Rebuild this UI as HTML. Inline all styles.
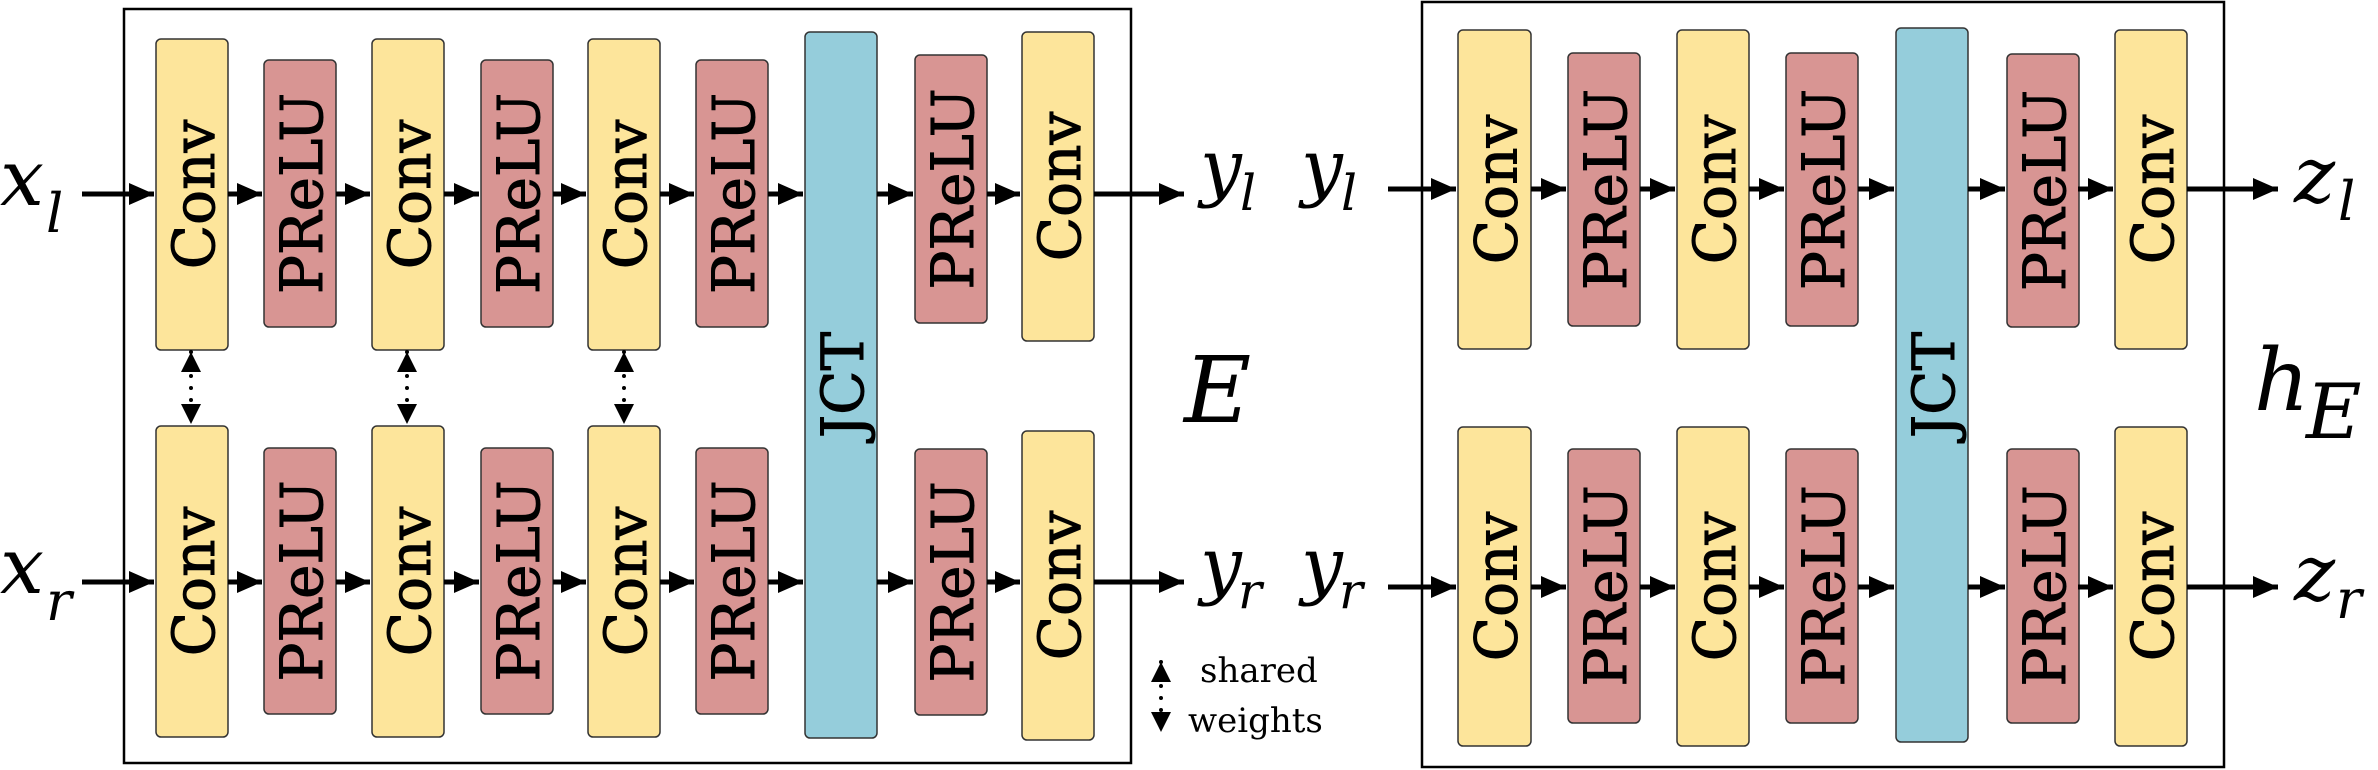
<!DOCTYPE html>
<html><head><meta charset="utf-8"><style>
html,body{margin:0;padding:0;background:#fff;}
svg{display:block;}
</style></head><body>
<svg id="fig" width="2378" height="770" viewBox="0 0 2378 770" xmlns="http://www.w3.org/2000/svg" font-family="'DejaVu Serif', 'Liberation Serif', serif">
<defs>
<marker id="ah" markerWidth="6" markerHeight="6" refX="5" refY="3" orient="auto" markerUnits="strokeWidth"><path d="M0,0.8 L5,3 L0,5.2 z" fill="#000"/></marker>
<marker id="ah2" markerWidth="6" markerHeight="6" refX="5" refY="3" orient="auto-start-reverse" markerUnits="strokeWidth"><path d="M0,0.5 L5,3 L0,5.5 z" fill="#000"/></marker>
</defs>
<rect x="124" y="9" width="1007" height="754" fill="none" stroke="#000" stroke-width="2.5"/>
<rect x="1422" y="2" width="802" height="765" fill="none" stroke="#000" stroke-width="2.5"/>
<g id="blocks"></g>
<g id="arrows"></g>
<g font-style="italic">
<text x="0" y="205" font-size="78">x</text><text x="46" y="232" font-size="54">l</text>
<text x="0" y="593" font-size="78">x</text><text x="46" y="620" font-size="54">r</text>
<text x="1200" y="192" font-size="74">y</text><text x="1240" y="210" font-size="50">l</text>
<text x="1200" y="590" font-size="74">y</text><text x="1238" y="608" font-size="50">r</text>
<text x="1301" y="192" font-size="74">y</text><text x="1341" y="210" font-size="50">l</text>
<text x="1301" y="590" font-size="74">y</text><text x="1339" y="608" font-size="50">r</text>
<text x="2294" y="202" font-size="78">z</text><text x="2338" y="220" font-size="54">l</text>
<text x="2294" y="600" font-size="78">z</text><text x="2336" y="618" font-size="54">r</text>
<text x="1184" y="422" font-size="92">E</text>
<text x="2254" y="410" font-size="86">h</text><text x="2306" y="438" font-size="76">E</text>
</g>
<text x="1200" y="682" font-size="34">shared</text>
<text x="1188" y="732" font-size="34">weights</text>
</svg>
<script>
const NS="http://www.w3.org/2000/svg";
const COL={Conv:"#FDE59B",PReLU:"#D89593",JCT:"#95CDDB"};
const blocks=[
["Conv",156,72,39,350],["PReLU",264,72,60,327],["Conv",372,72,39,350],["PReLU",481,72,60,327],["Conv",588,72,39,350],["PReLU",696,72,60,327],
["JCT",805,72,32,738],["PReLU",915,72,55,323],["Conv",1022,72,32,341],
["Conv",156,72,426,737],["PReLU",264,72,448,714],["Conv",372,72,426,737],["PReLU",481,72,448,714],["Conv",588,72,426,737],["PReLU",696,72,448,714],
["PReLU",915,72,449,715],["Conv",1022,72,431,740],
["Conv",1458,73,30,349],["PReLU",1568,72,53,326],["Conv",1677,72,30,349],["PReLU",1786,72,53,326],["JCT",1896,72,28,742],["PReLU",2007,72,54,327],["Conv",2115,72,30,349],
["Conv",1458,73,427,746],["PReLU",1568,72,449,723],["Conv",1677,72,427,746],["PReLU",1786,72,449,723],["PReLU",2007,72,449,723],["Conv",2115,72,427,746]
];
const bg=document.getElementById('blocks');
blocks.forEach((b,i)=>{
 const g=document.createElementNS(NS,'g');
 
 
 const r=document.createElementNS(NS,'rect');
 r.setAttribute('x',b[1]);r.setAttribute('y',b[3]);r.setAttribute('width',b[2]);r.setAttribute('height',b[4]-b[3]);
 r.setAttribute('rx',5);r.setAttribute('fill',COL[b[0]]);r.setAttribute('stroke','#333');r.setAttribute('stroke-width',1.5);
 g.appendChild(r);
 const t=document.createElementNS(NS,'text');
 const cx=b[1]+b[2]/2+2, cy=(b[3]+b[4])/2;
 t.setAttribute('font-size','58');t.setAttribute('text-anchor','middle');t.setAttribute('dominant-baseline','central');
 t.setAttribute('stroke','#000');t.setAttribute('stroke-width','1');
 t.setAttribute('transform','translate('+cx+','+cy+') rotate(-90)');
 t.textContent=b[0];
 g.appendChild(t);
 bg.appendChild(g);
});
const ag=document.getElementById('arrows');
function arrow(x1,y1,x2,y2,name){
 const l=document.createElementNS(NS,'line');
 
 
 l.setAttribute('x1',x1);l.setAttribute('y1',y1);l.setAttribute('x2',x2);l.setAttribute('y2',y2);
 l.setAttribute('stroke','#000');l.setAttribute('stroke-width',5);l.setAttribute('marker-end','url(#ah)');
 ag.appendChild(l);
}
function dotted(x,y1,y2,name){
 const l=document.createElementNS(NS,'line');
 
 
 l.setAttribute('x1',x);l.setAttribute('y1',y1);l.setAttribute('x2',x);l.setAttribute('y2',y2);
 l.setAttribute('stroke','#000');l.setAttribute('stroke-width',4);l.setAttribute('stroke-dasharray','0 12');l.setAttribute('stroke-linecap','round');
 l.setAttribute('marker-start','url(#ah2)');l.setAttribute('marker-end','url(#ah2)');
 ag.appendChild(l);
}
[[194,[82,228,336,444,553,660,768,877,987,1094],[156,264,372,481,588,696,805,915,1022,1186]],
 [582,[82,228,336,444,553,660,768,877,987,1094],[156,264,372,481,588,696,805,915,1022,1186]],
 [189,[1388,1531,1640,1749,1858,1968,2078,2187],[1458,1568,1677,1786,1896,2007,2115,2280]],
 [587,[1388,1531,1640,1749,1858,1968,2078,2187],[1458,1568,1677,1786,1896,2007,2115,2280]]
].forEach((row,ri)=>{
 row[1].forEach((s,k)=>{arrow(s,row[0],row[2][k]-2,row[0],'arrow-'+ri+'-'+k);});
});
dotted(191,352,424,'shared-weights-1');
dotted(407,352,424,'shared-weights-2');
dotted(624,352,424,'shared-weights-3');
dotted(1161,662,732,'legend-shared-arrow');
</script>
</body></html>
